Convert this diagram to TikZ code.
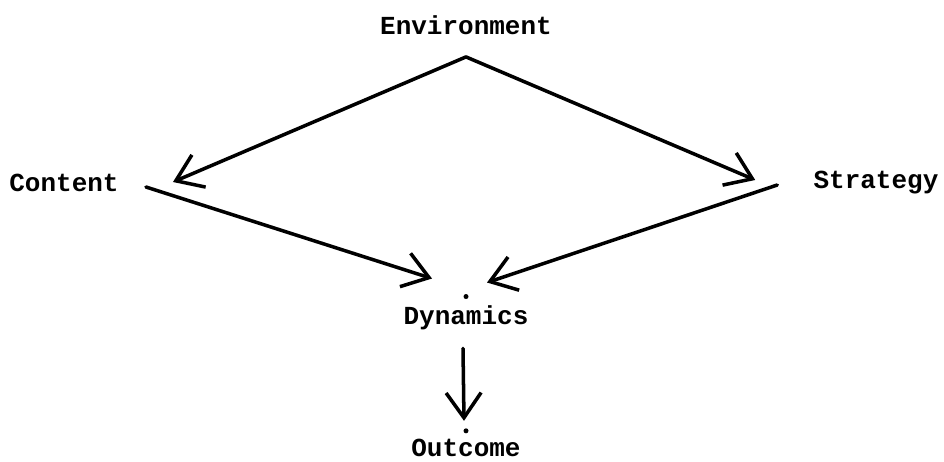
\documentclass[tikz,border=0pt]{standalone}
\usepackage{fontspec}
\setmainfont{Liberation Mono}
\usetikzlibrary{arrows.meta,calc}

\tikzset{
  word/.style={font=\fontsize{14.8}{16}\selectfont\bfseries, inner sep=0pt},
  link/.style={line width=2pt, line cap=round,
    -{Straight Barb[length=5mm,width=7mm,line width=2pt]}},
}

\begin{document}
\begin{tikzpicture}[x=0.02cm,y=-0.02cm]

    \useasboundingbox (0,0) rectangle (944,461);

    % Labels
    \node[word] (env) at (466,25) {Environment};
    \node[word] (cont) at (64,183) {Content};
    \node[word] (strat) at (876,183) {Strategy};
    \node[word] (dyn) at (466,318) {Dynamics};
    \node[word] (out) at (466,448) {Outcome};

    % Ends of the arrows
    \coordinate (apex) at ($(env.south)+(0,22)$);
    \coordinate (dynTop) at ($(dyn.north)+(0,-9)$);
    \coordinate (outTop) at ($(out.north)+(0,-8)$);

    % Arrows
    \draw[link] (apex) -- ($(cont.east)+(54,-1)$);
    \draw[link] (apex) -- ($(strat.west)+(-58,-3)$);
    \draw[link] ($(cont.east)+(27,4)$) -- ($(dynTop)+(-34,-18)$);
    \draw[link] ($(strat.west)+(-36,2)$) -- ($(dynTop)+(21,-14)$);
    \draw[link] ($(dyn.south)+(-3,18)$) -- ($(outTop)+(-2,-10)$);

    % Dots
    \fill (dynTop) circle (2.5);
    \fill (outTop) circle (2.5);

\end{tikzpicture}
\end{document}
